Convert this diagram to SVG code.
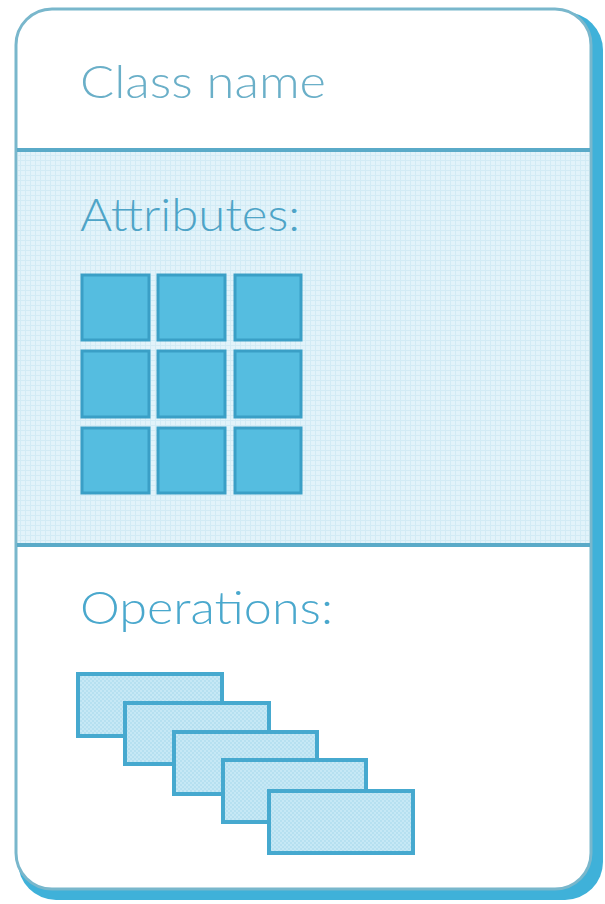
<svg xmlns="http://www.w3.org/2000/svg" width="605" height="904" viewBox="0 0 605 904">
<style>
.lbl{font-family:"Lato","Open Sans","Liberation Sans",sans-serif;font-weight:300;font-size:46px}
.cell{fill:#55bde0;stroke:#3a9fc6;stroke-width:3}
.op{fill:url(#dots);stroke:#46a9cf;stroke-width:4}
.div{stroke:#5aaac8;stroke-width:4}
</style>
<defs>
<pattern id="grid" width="5" height="5" patternUnits="userSpaceOnUse">
<rect width="5" height="5" fill="#e2f3fa"/>
<path d="M0 0.5H5M0.5 0V5" stroke="#d2ebf5" stroke-width="1"/>
</pattern>
<pattern id="dots" width="4" height="4" patternUnits="userSpaceOnUse">
<rect width="4" height="4" fill="#c6e8f5"/>
<rect width="2" height="2" fill="#b6e0f0"/>
<rect x="2" y="2" width="2" height="2" fill="#b6e0f0"/>
</pattern>
</defs>
<g id="card">
<rect x="18" y="12" width="585" height="888" rx="38" fill="#3fb1d9"/>
<rect x="16" y="9" width="575" height="880" rx="36" fill="#ffffff" stroke="#79b7cc" stroke-width="3"/>
<rect x="18" y="152" width="571" height="393" fill="url(#grid)"/>
<line class="div" x1="17" y1="150" x2="590" y2="150"/>
<line class="div" x1="17" y1="545" x2="590" y2="545"/>
</g>
<g id="class-name">
<text class="lbl" x="80" y="98" fill="#6aafc8" textLength="246" lengthAdjust="spacingAndGlyphs">Class name</text>
</g>
<g id="attributes">
<text class="lbl" x="80" y="231" fill="#4ea4c7" textLength="220" lengthAdjust="spacingAndGlyphs">Attributes:</text>
<rect class="cell" x="82" y="275" width="67" height="65"/>
<rect class="cell" x="158" y="275" width="67" height="65"/>
<rect class="cell" x="235" y="275" width="66" height="65"/>
<rect class="cell" x="82" y="351" width="67" height="66"/>
<rect class="cell" x="158" y="351" width="67" height="66"/>
<rect class="cell" x="235" y="351" width="66" height="66"/>
<rect class="cell" x="82" y="428" width="67" height="65"/>
<rect class="cell" x="158" y="428" width="67" height="65"/>
<rect class="cell" x="235" y="428" width="66" height="65"/>
</g>
<g id="operations">
<text class="lbl" x="80" y="624" fill="#4aa8cd" textLength="253" lengthAdjust="spacingAndGlyphs">Operations:</text>
<rect class="op" x="78" y="674" width="144" height="62"/>
<rect class="op" x="125" y="703" width="144" height="61"/>
<rect class="op" x="174" y="732" width="143" height="62"/>
<rect class="op" x="223" y="760" width="143" height="62"/>
<rect class="op" x="269" y="791" width="144" height="62"/>
</g>
</svg>
